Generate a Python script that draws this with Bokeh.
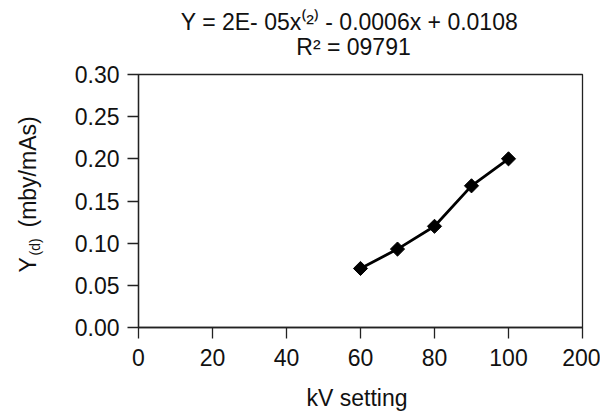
import numpy as np
from bokeh.plotting import figure
from bokeh.models import Range1d, FixedTicker, Label, NumeralTickFormatter
from bokeh.embed import file_html
from bokeh.resources import INLINE

# ---- data ----
kv = [60, 70, 80, 90, 100]
yd = [0.070, 0.093, 0.120, 0.168, 0.200]

x_ticks = [0, 20, 40, 60, 80, 100, 120]
x_tick_labels = ["0", "20", "40", "60", "80", "100", "200"]
y_ticks = [0.00, 0.05, 0.10, 0.15, 0.20, 0.25, 0.30]

FONT = "Liberation Sans"
TXT = "#111111"
FS = "23px"

p = figure(width=600, height=413, output_backend="svg", toolbar_location=None,
           x_range=Range1d(0, 120), y_range=Range1d(0, 0.30),
           min_border_left=138, min_border_right=18,
           min_border_top=74, min_border_bottom=86)

p.xgrid.visible = False
p.ygrid.visible = False
p.outline_line_color = "#222222"
p.outline_line_width = 1.3
p.background_fill_color = "white"
p.border_fill_color = "white"

for ax in (p.xaxis[0], p.yaxis[0]):
    ax.major_tick_in = 0
    ax.major_tick_out = 11
    ax.minor_tick_line_color = None
    ax.axis_line_color = "#222222"
    ax.axis_line_width = 1.3
    ax.major_tick_line_color = "#222222"
    ax.major_tick_line_width = 1.3
    ax.major_label_text_font = FONT
    ax.major_label_text_font_size = FS
    ax.major_label_text_color = TXT
p.yaxis.major_label_standoff = 8
p.xaxis.major_label_standoff = 10

p.xaxis.ticker = FixedTicker(ticks=x_ticks)
p.xaxis.major_label_overrides = {t: l for t, l in zip(x_ticks, x_tick_labels)}
p.yaxis.ticker = FixedTicker(ticks=y_ticks)
p.yaxis.formatter = NumeralTickFormatter(format="0.00")

p.line(kv, yd, line_color="black", line_width=2.8)
p.scatter(kv, yd, marker="square", angle=np.pi / 4, size=10,
          fill_color="black", line_color="black")


def lab(x, y, text, place, size=FS, angle=0.0, align="left"):
    p.add_layout(Label(x=x, y=y, x_units="canvas", y_units="canvas",
                       text=text, angle=angle, text_font=FONT,
                       text_font_size=size, text_color=TXT, text_align=align,
                       text_baseline="alphabetic"), place)


# title (two lines)
lab(349, 21, "Y = 2E- 05x\u207d\u00b2\u207e - 0.0006x + 0.0108", "above", align="center")
lab(353, 46, "R\u00b2 = 09791", "above", align="center")

# y-axis label: Y, subscript (d), (mby/mAs)
lab(27, 272, "Y", "left", angle=np.pi / 2)
lab(34, 255, "(d)", "above", size="14px", angle=np.pi / 2)
lab(27, 227, "(mby/mAs)", "left", angle=np.pi / 2)

# x-axis label
lab(356.5, 397, "kV setting", "below", align="center")

open("out.html", "w").write(file_html(p, INLINE))
